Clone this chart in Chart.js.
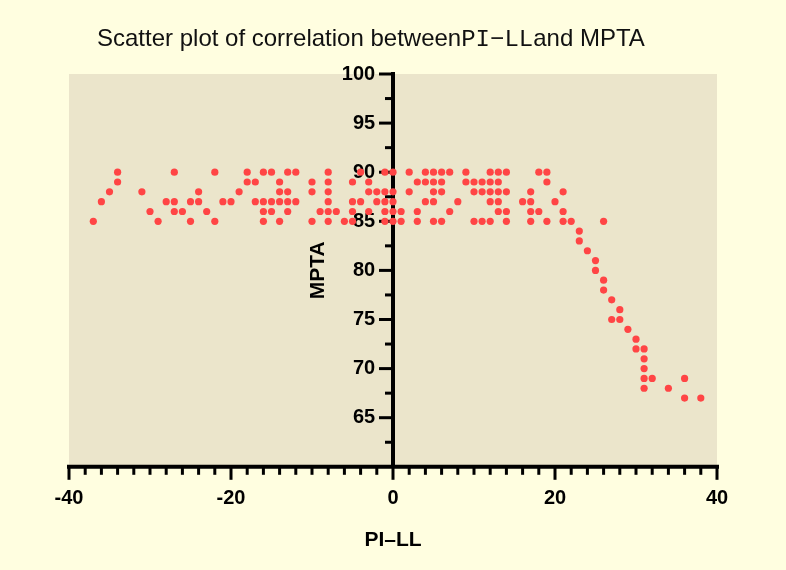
<!DOCTYPE html>
<html>
<head>
<meta charset="utf-8">
<script src="https://cdn.jsdelivr.net/npm/chart.js@4/dist/chart.umd.min.js"></script>
<style>
  html, body { margin: 0; padding: 0; background: #FFFEE0; }
  #wrap { width: 786px; height: 570px; }
</style>
</head>
<body>
<div id="wrap"><canvas id="c" width="786" height="570"></canvas></div>
<script>
// ---- Data (PI-LL on x, MPTA on y) ----
// x values of points lying at each MPTA level
const X_AT_MPTA_90 = [-34, -27, -22, -18, -16, -15, -13, -12, -8, -4, -1, 0, 2, 4, 5, 6, 7, 9, 12, 13, 14, 18, 19];
const X_AT_MPTA_89 = [-34, -18, -17, -14, -10, -8, -5, -3, 3, 4, 5, 6, 9, 10, 11, 12, 13, 19];
const X_AT_MPTA_88 = [-35, -31, -24, -19, -14, -13, -10, -8, -3, -2, -1, 0, 2, 5, 6, 10, 11, 12, 13, 14, 17, 21];
const X_AT_MPTA_87 = [-36, -28, -27, -25, -24, -21, -20, -17, -16, -15, -14, -13, -12, -8, -5, -4, -2, -1, 0, 4, 5, 8, 12, 13, 16, 17, 20];
const X_AT_MPTA_86 = [-30, -27, -26, -23, -16, -15, -13, -9, -8, -7, -5, -3, -1, 0, 1, 3, 7, 13, 14, 17, 18, 21];
const X_AT_MPTA_85 = [-37, -29, -25, -22, -16, -14, -10, -8, -6, -5, -1, 0, 1, 3, 5, 6, 10, 11, 12, 14, 17, 19, 21, 22, 26];
// declining tail
const TAIL_PI_LL = [23, 23, 24, 25, 25, 26, 26, 27, 28, 27, 28, 29, 30, 30, 31, 31, 31, 31, 32, 36, 31, 34, 36, 38];
const TAIL_MPTA  = [84, 83, 82, 81, 80, 79, 78, 77, 76, 75, 75, 74, 73, 72, 72, 71, 70, 69, 69, 69, 68, 68, 67, 67];

const LEVELS = [
  [90, X_AT_MPTA_90], [89, X_AT_MPTA_89], [88, X_AT_MPTA_88],
  [87, X_AT_MPTA_87], [86, X_AT_MPTA_86], [85, X_AT_MPTA_85]
];

const X_MIN = -40, X_MAX = 40, X_LABEL_STEP = 20, X_MINOR_STEP = 2;
const Y_MIN = 60, Y_MAX = 100, Y_LABEL_STEP = 5, Y_MINOR_STEP = 2.5;

const TITLE_PARTS = ['Scatter plot of correlation between', 'PI\u2212LL', 'and MPTA'];
const X_TITLE = 'PI\u2013LL';
const Y_TITLE = 'MPTA';

const points = [];
LEVELS.forEach(([y, xs]) => xs.forEach(x => points.push({ x: x, y: y })));
TAIL_PI_LL.forEach((x, i) => points.push({ x: x, y: TAIL_MPTA[i] }));

const SANS = '"Liberation Sans", Arial, Helvetica, sans-serif';
// y labels sit this many x-units left of the crossing axis (x = 0)
const Y_LABEL_GAP_UNITS = -2.2;

const bgPlugin = {
  id: 'bg',
  beforeDraw(chart) {
    const { ctx, chartArea: a } = chart;
    ctx.save();
    ctx.fillStyle = '#FFFEE0';
    ctx.fillRect(0, 0, chart.width, chart.height);
    ctx.fillStyle = '#EBE5CB';
    ctx.fillRect(a.left, a.top, a.right - a.left, a.bottom - a.top);
    ctx.restore();
  }
};

const axesPlugin = {
  id: 'crossAxes',
  beforeDatasetsDraw(chart) {
    const { ctx } = chart;
    const xs = chart.scales.x, ys = chart.scales.y;
    const yb = ys.getPixelForValue(Y_MIN);
    const x0 = xs.getPixelForValue(0);
    ctx.save();
    ctx.strokeStyle = '#000';
    ctx.lineCap = 'butt';
    ctx.lineWidth = 3;
    for (let v = X_MIN; v <= X_MAX + 1e-9; v += X_MINOR_STEP) {
      const px = xs.getPixelForValue(v);
      const len = (Math.abs(v % X_LABEL_STEP) < 1e-9) ? 13 : 8;
      ctx.beginPath(); ctx.moveTo(px, yb); ctx.lineTo(px, yb + len); ctx.stroke();
    }
    for (let v = Y_MIN + Y_MINOR_STEP; v <= Y_MAX + 1e-9; v += Y_MINOR_STEP) {
      const py = ys.getPixelForValue(v);
      const len = (Math.abs(v % Y_LABEL_STEP) < 1e-9) ? 14 : 8;
      ctx.beginPath(); ctx.moveTo(x0, py); ctx.lineTo(x0 - len, py); ctx.stroke();
    }
    ctx.lineWidth = 4;
    ctx.lineCap = 'square';
    ctx.beginPath();
    ctx.moveTo(xs.getPixelForValue(X_MIN), yb); ctx.lineTo(xs.getPixelForValue(X_MAX), yb);
    ctx.moveTo(x0, ys.getPixelForValue(Y_MAX)); ctx.lineTo(x0, yb);
    ctx.stroke();
    ctx.restore();
  }
};

const textPlugin = {
  id: 'texts',
  afterDraw(chart) {
    const { ctx } = chart;
    ctx.save();
    ctx.fillStyle = '#111';
    ctx.textBaseline = 'alphabetic';
    ctx.textAlign = 'left';
    const fonts = ['24px ' + SANS, '24px "Liberation Mono", "DejaVu Sans Mono", monospace', '24px ' + SANS];
    let x = 97;
    TITLE_PARTS.forEach((t, i) => {
      ctx.font = fonts[i];
      ctx.fillText(t, x, 46);
      x += ctx.measureText(t).width;
    });
    const ys = chart.scales.y;
    const cy = (ys.top + ys.bottom) / 2;
    ctx.translate(318, cy);
    ctx.rotate(-Math.PI / 2);
    ctx.font = 'bold 21px ' + SANS;
    ctx.fillStyle = '#000';
    ctx.textAlign = 'center';
    ctx.textBaseline = 'middle';
    ctx.fillText(Y_TITLE, 0, 0);
    ctx.restore();
  }
};

new Chart(document.getElementById('c'), {
  type: 'scatter',
  data: {
    datasets: [{
      data: points,
      backgroundColor: '#FF4545',
      borderWidth: 0,
      pointRadius: 3.6,
      pointHoverRadius: 3.6
    }]
  },
  options: {
    responsive: false,
    animation: false,
    devicePixelRatio: 1,
    layout: { padding: { left: 69, right: 69, top: 74, bottom: 0 } },
    plugins: {
      legend: { display: false },
      tooltip: { enabled: false },
      title: { display: false }
    },
    scales: {
      x: {
        type: 'linear',
        position: 'bottom',
        min: X_MIN, max: X_MAX,
        grid: { display: false, drawTicks: false },
        border: { display: false },
        ticks: {
          stepSize: X_LABEL_STEP,
          padding: 20,
          color: '#000',
          font: { family: SANS, size: 20, weight: 'bold' }
        },
        title: {
          display: true,
          text: X_TITLE,
          color: '#000',
          font: { family: SANS, size: 21, weight: 'bold' },
          padding: { top: -3, bottom: 17 }
        }
      },
      xLabelAnchor: {
        type: 'linear',
        position: 'bottom',
        display: false,
        min: X_MIN, max: X_MAX
      },
      y: {
        type: 'linear',
        position: { xLabelAnchor: Y_LABEL_GAP_UNITS },
        min: Y_MIN, max: Y_MAX,
        z: 1,
        grid: { display: false, drawTicks: false },
        border: { display: false },
        ticks: {
          stepSize: Y_LABEL_STEP,
          padding: 0,
          color: '#000',
          font: { family: SANS, size: 20, weight: 'bold' },
          callback: (v) => (v === Y_MIN ? '' : v)
        }
      }
    }
  },
  plugins: [bgPlugin, axesPlugin, textPlugin]
});
</script>
</body>
</html>
